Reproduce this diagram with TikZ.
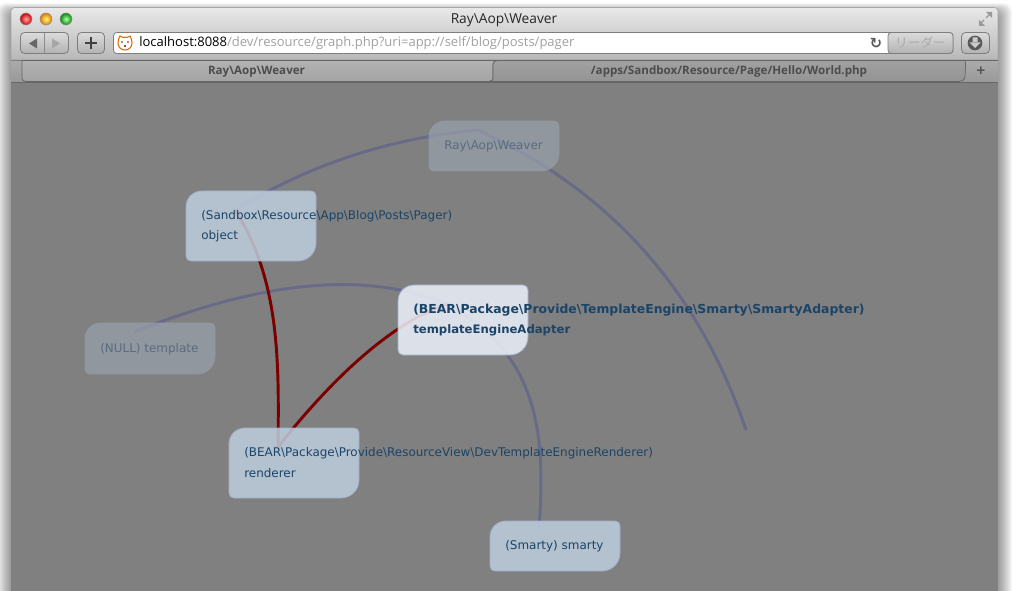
\documentclass[tikz,border=0pt]{standalone}
\usepackage{fontspec}
\setmainfont{DejaVu Sans}
\newfontfamily\uifont{Open Sans}
\newfontfamily\cjkfont{Noto Sans CJK JP}
\usetikzlibrary{calc}
\definecolor{pagebg}{HTML}{808080}
\definecolor{edgeblue}{HTML}{686A88}
\definecolor{edgered}{HTML}{7A0000}
\definecolor{nodeblue}{RGB}{190,206,223}
\definecolor{nodefade}{RGB}{152,161,172}
\definecolor{nodefadeedge}{RGB}{145,151,162}
\definecolor{nodehi}{RGB}{237,241,251}
\definecolor{nodeedge}{HTML}{A0AEC8}
\definecolor{labeldark}{HTML}{1A4468}
\definecolor{labelfade}{HTML}{5A6B80}
\definecolor{chromeline}{HTML}{7E7E7E}
\tikzset{
  x=0.75pt,y=-0.75pt,
  linkblue/.style={draw=edgeblue,line width=2.2pt},
  linkred/.style={draw=edgered,line width=2.2pt},
  boxblue/.style={fill=nodeblue,fill opacity=0.85,draw=nodeedge,line width=0.6pt},
  boxfade/.style={fill=nodefade,fill opacity=0.7,draw=nodefadeedge,line width=0.6pt},
  boxhi/.style={fill=nodehi,fill opacity=0.85,draw=nodeedge,line width=0.6pt},
  lab/.style={anchor=west,inner sep=0,font=\fontsize{8.97pt}{11pt}\selectfont,text=labeldark},
  labfade/.style={lab,text=labelfade},
  labbold/.style={lab,font=\fontsize{9.3pt}{11pt}\selectfont\bfseries},
  labboldb/.style={lab,font=\fontsize{8.75pt}{11pt}\selectfont\bfseries},
  btn/.style={draw=chromeline,line width=0.6pt,rounded corners=3pt,top color=white!86!black,bottom color=white!70!black},
  ui/.style={inner sep=0,font=\uifont\fontsize{9.77pt}{12pt}\selectfont},
  tabtext/.style={inner sep=0,font=\uifont\fontsize{8.7pt}{10pt}\selectfont\bfseries,text=black!70},
  holder/.style={rectangle,inner sep=0,outer sep=0,anchor=north west}
}
\newcommand{\gnode}[5]{\node[holder,minimum width=#4*0.75pt,minimum height=#5*0.75pt] (#1) at (#2,#3) {};}
\newcommand{\gbox}[5]{\begin{scope}[shift={(#1,#2)}]
 \path[#5] (16,0) -- (#3-5,0) .. controls (#3-2,0) and (#3,2) .. (#3,5) -- (#3,#4-18) .. controls (#3,#4-8) and (#3-8,#4) .. (#3-18,#4) -- (5,#4) .. controls (2,#4) and (0,#4-2) .. (0,#4-5) -- (0,16) .. controls (0,7) and (7,0) .. (16,0) -- cycle;
\end{scope}}
\begin{document}
\begin{tikzpicture}
\useasboundingbox (0,0) rectangle (1012,591);
\clip (0,0) rectangle (1012,591);
\fill[white] (0,0) rectangle (1012,591);
% soft window shadow
\foreach \i in {1,...,14}{
  \fill[black,opacity=0.03,rounded corners=6pt] ({11-\i},{13-0.7*\i}) rectangle ({998+\i},640);
}
% window chrome
\path[top color=white!91!black,bottom color=white!72!black,draw=black!35,line width=0.5pt]
  (11,60) -- (11,11) .. controls (11,8.5) and (13,7.5) .. (15,7.5) -- (994,7.5) .. controls (996,7.5) and (998,8.5) .. (998,11) -- (998,60) -- cycle;
\shade[top color=white!67!black,bottom color=white!60!black] (11,60) rectangle (998,82);
\draw[black!50,line width=0.5pt] (11,60.5) -- (22,60.5);
\fill[pagebg] (11,82.5) rectangle (998,591);
% tabs
\path[top color=white!70!black,bottom color=white!64!black,draw=black!60,line width=0.55pt] (22,60.5) -- (22,78) .. controls (22,80) and (23,81.5) .. (26,81.5) -- (489,81.5) .. controls (492,81.5) and (493,80) .. (493,78) -- (493,64) .. controls (493,62) and (495,60.5) .. (498,60.5) -- cycle;
\path[top color=white!63!black,bottom color=white!58!black,draw=black!60,line width=0.55pt] (498,60.5) -- (965,60.5) .. controls (966,62) and (965,76) .. (965,76) .. controls (965,80) and (962,81.5) .. (959,81.5) -- (489,81.5) .. controls (492,81.5) and (493,80) .. (493,78) -- (493,64) .. controls (493,62) and (495,60.5) .. (498,60.5) -- cycle;
\draw[black!60,line width=0.55pt] (965,60.5) -- (998,60.5);
\draw[black!60,line width=0.6pt] (11,82) -- (998,82);
\node[tabtext] (tabone) at (256.5,71.5) {Ray\textbackslash Aop\textbackslash Weaver};
\node[tabtext] (tabtwo) at (729,71.5) {/apps/Sandbox/Resource/Page/Hello/World.php};
\node[inner sep=0,text=black!70,font=\bfseries\fontsize{9pt}{10pt}\selectfont] (tabplus) at (981,71) {+};
% traffic lights
\shade[inner color=red!35!white,outer color=red!80!black,draw=black!45,line width=0.4pt] (26,19) circle[radius=4.5pt];
\shade[inner color=yellow!55!white,outer color=orange!90!black,draw=black!45,line width=0.4pt] (46,19) circle[radius=4.5pt];
\shade[inner color=green!30!white,outer color=green!55!black,draw=black!45,line width=0.4pt] (66,19) circle[radius=4.5pt];
\node[ui,text=black!85,font=\uifont\fontsize{10.3pt}{12pt}\selectfont] (wintitle) at (504,20) {Ray\textbackslash Aop\textbackslash Weaver};
% resize arrows
\draw[black!40,line width=0.9pt] (980,24) -- (984,20) (986,18) -- (990,14);
\fill[black!40] (979,26) -- (979,20) -- (985,26) -- cycle (992,12) -- (992,18) -- (986,12) -- cycle;
% toolbar
\path[btn] (20.5,32.5) rectangle (68.5,53.5);
\draw[black!45,line width=0.5pt] (44.5,33) -- (44.5,53);
\fill[black!60] (29,43.5) -- (37,38.5) -- (37,48.5) -- cycle;
\fill[black!35] (60,43.5) -- (52,38.5) -- (52,48.5) -- cycle;
\path[btn] (77.5,32.5) rectangle (104.5,53.5);
\draw[black!75,line width=1.3pt] (85,43) -- (97,43) (91,37) -- (91,49);
\path[fill=white,draw=chromeline,line width=0.6pt,rounded corners=2.5pt] (113.5,32.5) rectangle (953,53.5);
\path[btn,rounded corners=2.5pt] (888,32.5) rectangle (953,53.5);
\node[inner sep=0,font=\cjkfont\fontsize{9.5pt}{11pt}\selectfont,text=black!33] (reader) at (920.5,43) {リーダー};
\node[inner sep=0,font=\fontsize{11pt}{11pt}\selectfont\bfseries,text=black!65] (reload) at (876,43) {\symbol{"21BB}};
\path[btn] (961.5,32.5) rectangle (989.5,53.5);
\fill[black!65] (975,43) circle[radius=5.5pt];
\fill[white!80!black] (972.5,37.5) rectangle (977.5,43) (969.5,42.5) -- (980.5,42.5) -- (975,48) -- cycle;
% favicon
\path[fill=white,draw=orange!85!black,line width=0.8pt] (118,43) .. controls (118,40) and (119,38) .. (120,36) -- (123,37.5) .. controls (124,37) and (126,37) .. (127,37.5) -- (130,36) .. controls (131,38) and (132,40) .. (132,43) .. controls (132,47) and (129,50) .. (125,50) .. controls (121,50) and (118,47) .. (118,43) -- cycle;
\fill[red!60!black] (122,42) circle[radius=0.7pt] (128,42) circle[radius=0.7pt] (125,46) circle[radius=0.8pt];
\node[ui,anchor=west,text=black] (urlhost) at (139,43.5) {localhost:8088\textcolor{black!37}{/dev/resource/graph.php?uri=app://self/blog/posts/pager}};
% graph holders
\gnode{weaver}{429}{121}{130}{50}
\gnode{pager}{186}{191}{130}{70}
\gnode{adapter}{398}{285}{130}{70}
\gnode{nulltpl}{85}{323}{130}{51}
\gnode{renderer}{229}{428}{130}{70}
\gnode{smarty}{490}{521}{130}{50}
\coordinate (looseend) at (746,430);
% links
\draw[linkblue] ([shift={(49,19)}]pager.north west) .. controls +(75,-46) and +(-87,8) .. ([shift={(49,9)}]weaver.north west);
\draw[linkblue] ([shift={(49,9)}]weaver.north west) .. controls +(130,60) and +(-48,-142) .. (looseend);
\draw[linkblue] ([shift={(49,9)}]nulltpl.north west) .. controls +(91,-36) and +(-102,-42) .. ([shift={(49,19)}]adapter.north west);
\draw[linkblue] ([shift={(49,19)}]adapter.north west) .. controls +(91,51) and +(7,-100) .. ([shift={(49,9)}]smarty.north west);
\draw[linkred] ([shift={(49,19)}]pager.north west) .. controls +(45,70) and +(1,-85) .. ([shift={(49,19)}]renderer.north west);
\draw[linkred] ([shift={(49,19)}]adapter.north west) .. controls +(-62,21) and +(45,-57) .. ([shift={(49,19)}]renderer.north west);
% boxes
\gbox{429}{121}{130}{50}{boxfade}
\gbox{85}{323}{130}{51}{boxfade}
\gbox{186}{191}{130}{70}{boxblue}
\gbox{229}{428}{130}{70}{boxblue}
\gbox{490}{521}{130}{50}{boxblue}
\gbox{398}{285}{130}{70}{boxhi}
% labels
\node[labfade] (tweaver) at (444,146.5) {Ray\textbackslash Aop\textbackslash Weaver};
\node[lab] (tpager) at (201,216.5) {(Sandbox\textbackslash Resource\textbackslash App\textbackslash Blog\textbackslash Posts\textbackslash Pager)};
\node[lab] (tpagerb) at (201,236.5) {object};
\node[labbold] (tadapter) at (413,310.5) {(BEAR\textbackslash Package\textbackslash Provide\textbackslash TemplateEngine\textbackslash Smarty\textbackslash SmartyAdapter)};
\node[labboldb] (tadapterb) at (413,330.5) {templateEngineAdapter};
\node[labfade] (tnull) at (100,349.5) {(NULL) template};
\node[lab] (trender) at (244,453.5) {(BEAR\textbackslash Package\textbackslash Provide\textbackslash ResourceView\textbackslash DevTemplateEngineRenderer)};
\node[lab] (trenderb) at (244,473.5) {renderer};
\node[lab] (tsmarty) at (505,546.5) {(Smarty) smarty};
\end{tikzpicture}
\end{document}
